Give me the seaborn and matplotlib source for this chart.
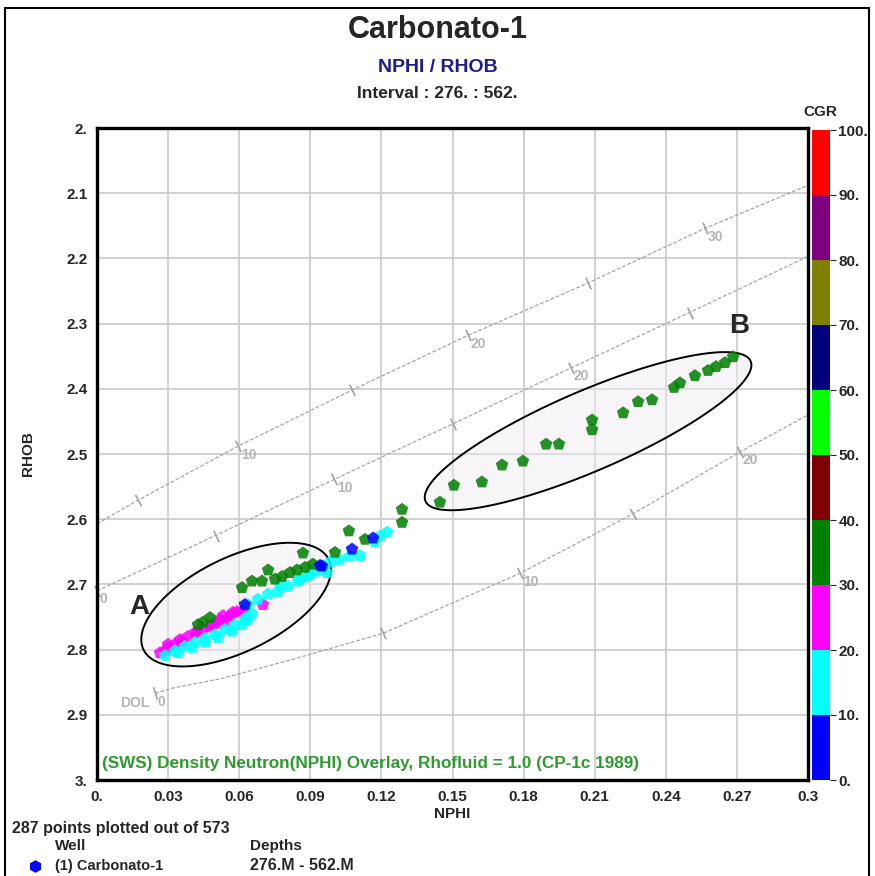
import matplotlib
matplotlib.use("Agg")
import matplotlib.pyplot as plt
import numpy as np
import pandas as pd
import seaborn as sns
from matplotlib import font_manager
from matplotlib.cm import ScalarMappable
from matplotlib.colors import ListedColormap, Normalize
from matplotlib.patches import Rectangle

# CGR colour classes (10 API each, 0 -> 100)
CGR_COLORS = ["#0000ff", "#00ffff", "#ff00ff", "#007f00", "#7f0000",
              "#00ff00", "#00007f", "#7f7f00", "#7f007f", "#ff0000"]
CGR_TICKS = [0, 10, 20, 30, 40, 50, 60, 70, 80, 90, 100]

NPHI_MAG = [0.0266, 0.0287, 0.0300, 0.0329, 0.0359, 0.0384, 0.0414, 0.0447, 0.0477,
            0.0506, 0.0540, 0.0532, 0.0574, 0.0612, 0.0624, 0.0591, 0.0700,
            0.0300, 0.0350, 0.0426, 0.0485, 0.0519, 0.0561]
RHOB_MAG = [2.805, 2.802, 2.797, 2.792, 2.788, 2.780, 2.774, 2.769, 2.765,
            2.760, 2.757, 2.748, 2.743, 2.743, 2.738, 2.742, 2.731,
            2.792, 2.785, 2.772, 2.762, 2.754, 2.749]
CGR_MAG = 25

NPHI_CYAN = [0.0287, 0.0329, 0.0371, 0.0414, 0.0456, 0.0498, 0.0540, 0.0582, 0.0624,
             0.0654, 0.0637, 0.0679, 0.0722, 0.0764, 0.0806, 0.0848, 0.0886, 0.0920,
             0.0954, 0.0970, 0.0983, 0.1025, 0.1067, 0.1110, 0.1173, 0.1224, 0.1194,
             0.0342, 0.0401, 0.0456, 0.0511, 0.0570, 0.0612, 0.0637, 0.0772, 0.0857, 0.0899]
RHOB_CYAN = [2.809, 2.802, 2.795, 2.789, 2.783, 2.777, 2.769, 2.762, 2.752,
             2.745, 2.731, 2.723, 2.715, 2.711, 2.703, 2.695, 2.688, 2.680,
             2.677, 2.682, 2.666, 2.662, 2.657, 2.656, 2.635, 2.620, 2.626,
             2.805, 2.797, 2.789, 2.782, 2.772, 2.762, 2.754, 2.702, 2.692, 2.685]
CGR_CYAN = 15

NPHI_BLUE = [0.0624, 0.0941, 0.0949, 0.1076, 0.1165]
RHOB_BLUE = [2.731, 2.671, 2.672, 2.646, 2.629]
CGR_BLUE = 5

NPHI_GRN = [0.0426, 0.0447, 0.0477, 0.0612, 0.0654, 0.0696, 0.0722, 0.0751, 0.0781,
            0.0814, 0.0844, 0.0878, 0.0911, 0.0869, 0.1004, 0.1063, 0.1131, 0.1287, 0.1287]
RHOB_GRN = [2.762, 2.758, 2.751, 2.705, 2.695, 2.695, 2.678, 2.692, 2.688,
            2.682, 2.678, 2.674, 2.669, 2.652, 2.651, 2.618, 2.631, 2.585, 2.605]
NPHI_B = [0.1447, 0.1506, 0.1624, 0.1709, 0.1797, 0.1895, 0.1949, 0.2089, 0.2089, 0.2220,
          0.2283, 0.2342, 0.2435, 0.2460, 0.2523, 0.2578, 0.2612, 0.2650, 0.2684]
RHOB_B = [2.574, 2.548, 2.543, 2.517, 2.511, 2.485, 2.485, 2.448, 2.463, 2.437,
          2.420, 2.417, 2.398, 2.391, 2.380, 2.372, 2.366, 2.360, 2.351]
CGR_GRN = 35

# CP-1c overlay lines (sandstone, limestone, dolomite)
SS_NPHI = [0.0, 0.0173, 0.0595, 0.1076, 0.1566, 0.2070, 0.2565, 0.3]
SS_RHOB = [2.607, 2.571, 2.488, 2.402, 2.318, 2.238, 2.154, 2.088]
SS_TICKS = {1: "", 2: "10", 3: "", 4: "20", 5: "", 6: "30"}
LS_NPHI = [0.0, 0.05, 0.10, 0.15, 0.20, 0.25, 0.3]
LS_RHOB = [2.710, 2.625, 2.539, 2.454, 2.368, 2.283, 2.197]
LS_TICKS = {0: "0", 1: "", 2: "10", 3: "", 4: "20", 5: ""}
DOL_NPHI = [0.0245, 0.032, 0.053, 0.0815, 0.1207, 0.1785, 0.226, 0.2712, 0.3]
DOL_RHOB = [2.867, 2.859, 2.844, 2.816, 2.775, 2.683, 2.592, 2.497, 2.440]
DOL_TICKS = {0: "0", 4: "", 5: "10", 6: "", 7: "20"}

X_TICKS = [0.0, 0.03, 0.06, 0.09, 0.12, 0.15, 0.18, 0.21, 0.24, 0.27, 0.3]
X_LABELS = ["0.", "0.03", "0.06", "0.09", "0.12", "0.15", "0.18", "0.21", "0.24", "0.27", "0.3"]
Y_TICKS = [2.0, 2.1, 2.2, 2.3, 2.4, 2.5, 2.6, 2.7, 2.8, 2.9, 3.0]
Y_LABELS = ["2.", "2.1", "2.2", "2.3", "2.4", "2.5", "2.6", "2.7", "2.8", "2.9", "3."]

frames = [
    pd.DataFrame({"NPHI": NPHI_MAG, "RHOB": RHOB_MAG, "CGR": CGR_MAG}),
    pd.DataFrame({"NPHI": NPHI_CYAN, "RHOB": RHOB_CYAN, "CGR": CGR_CYAN}),
    pd.DataFrame({"NPHI": NPHI_GRN + NPHI_B, "RHOB": RHOB_GRN + RHOB_B, "CGR": CGR_GRN}),
    pd.DataFrame({"NPHI": NPHI_BLUE, "RHOB": RHOB_BLUE, "CGR": CGR_BLUE}),
]
df = pd.concat(frames, ignore_index=True)

sns.set_theme(style="white")
installed = {f.name for f in font_manager.fontManager.ttflist}
narrow = "Liberation Sans Narrow" if "Liberation Sans Narrow" in installed else "Liberation Sans"
plt.rcParams["font.family"] = [narrow, "DejaVu Sans"]
plt.rcParams["font.weight"] = "bold"

cmap = ListedColormap(CGR_COLORS)
norm = Normalize(0, 100)

fig = plt.figure(figsize=(8.75, 8.76), dpi=100)
ax = fig.add_axes([97 / 875, 1 - 780 / 876, 711 / 875, 652 / 876])
cax = fig.add_axes([812 / 875, 1 - 780 / 876, 18 / 875, 650 / 876])

ax.set_xlim(0, 0.3)
ax.set_ylim(3.0, 2.0)
ax.set_xticks(X_TICKS)
ax.set_xticklabels(X_LABELS)
ax.set_yticks(Y_TICKS)
ax.set_yticklabels(Y_LABELS)
ax.grid(True, color="#cacaca", lw=1.2)
ax.tick_params(length=0, pad=7, labelsize=11)
for s in ax.spines.values():
    s.set_linewidth(2.4)
    s.set_color("black")


def pix_angle(x0, y0, x1, y1):
    p0 = ax.transData.transform((x0, y0))
    p1 = ax.transData.transform((x1, y1))
    return np.degrees(np.arctan2(p1[1] - p0[1], p1[0] - p0[0]))


gray = "#a6a6a6"
for xs, ys, ticks in [(SS_NPHI, SS_RHOB, SS_TICKS), (LS_NPHI, LS_RHOB, LS_TICKS),
                      (DOL_NPHI, DOL_RHOB, DOL_TICKS)]:
    ax.plot(xs, ys, color=gray, lw=0.9, ls=(0, (3, 1.5)), zorder=2)
    for i, lab in ticks.items():
        j = min(i + 1, len(xs) - 1)
        ang = pix_angle(xs[i], ys[i], xs[j], ys[j])
        ax.plot(xs[i], ys[i], marker=(2, 2, ang), ms=9, mew=0.9, color=gray,
                zorder=2, clip_on=False)
        if lab:
            ax.annotate(lab, (xs[i], ys[i]), xytext=(2, -6), textcoords="offset points",
                        ha="left", va="center", color="#b4b4b4", fontsize=10,
                        fontweight="bold", annotation_clip=False)
ax.annotate("DOL", (DOL_NPHI[0], DOL_RHOB[0]), xytext=(-4, -7), textcoords="offset points",
            ha="right", va="center", color="#b4b4b4", fontsize=10, fontweight="bold")


def ellipse(cx, cy, a, b, angle):
    c = ax.transData.transform((cx, cy))
    t = np.linspace(0, 2 * np.pi, 200)
    th = np.radians(angle)
    px = c[0] + a * np.cos(t) * np.cos(th) - b * np.sin(t) * np.sin(th)
    py = c[1] + a * np.cos(t) * np.sin(th) + b * np.sin(t) * np.cos(th)
    pts = ax.transData.inverted().transform(np.column_stack([px, py]))
    ax.fill(pts[:, 0], pts[:, 1], facecolor=(0.94, 0.92, 0.94, 0.45),
            edgecolor="black", lw=1.4, zorder=3)


ellipse(0.0587, 2.731, 103, 47, 26)
ellipse(0.2072, 2.465, 177, 40, 23.3)

sns.scatterplot(data=df, x="NPHI", y="RHOB", hue="CGR", palette=cmap, hue_norm=norm,
                marker="p", s=90, linewidth=0, alpha=0.85, legend=False, ax=ax, zorder=4)
ax.set_xlabel("NPHI", fontsize=11, fontweight="bold", labelpad=2)
ax.set_ylabel("RHOB", fontsize=11, fontweight="bold", labelpad=22)

ax.text(0.018, 2.735, "A", fontsize=20, fontweight="bold", ha="center", va="center",
        family="Liberation Sans")
ax.text(0.271, 2.304, "B", fontsize=20, fontweight="bold", ha="center", va="center",
        family="Liberation Sans")
ax.text(0.002, 2.975, "(SWS) Density Neutron(NPHI) Overlay, Rhofluid = 1.0 (CP-1c 1989)",
        color="#2e9a2e", fontsize=12.3, fontweight="bold", ha="left", va="center")

cb = fig.colorbar(ScalarMappable(norm=norm, cmap=cmap), cax=cax, ticks=CGR_TICKS)
cb.outline.set_visible(False)
cb.ax.set_yticklabels([f"{v}." for v in CGR_TICKS])
cb.ax.tick_params(length=4, width=0.8, pad=2, labelsize=11)
fig.text(820 / 875, 1 - 112 / 876, "CGR", ha="center", va="center", fontsize=11,
         fontweight="bold")

fig.text(0.5, 1 - 30 / 876, "Carbonato-1", ha="center", va="center", fontsize=22,
         fontweight="bold", family="Liberation Sans")
fig.text(0.5, 1 - 68 / 876, "NPHI / RHOB", ha="center", va="center", fontsize=14,
         fontweight="bold", color="#1c1c8c")
fig.text(0.5, 1 - 93 / 876, "Interval : 276. : 562.", ha="center", va="center",
         fontsize=12.5, fontweight="bold")

fig.text(12 / 875, 1 - 828 / 876, "287 points plotted out of 573", ha="left", va="center",
         fontsize=11.5, fontweight="bold")
fig.text(55 / 875, 1 - 846 / 876, "Well", ha="left", va="center", fontsize=11,
         fontweight="bold")
fig.text(250 / 875, 1 - 846 / 876, "Depths", ha="left", va="center", fontsize=11,
         fontweight="bold")
fig.text(55 / 875, 1 - 866 / 876, "(1) Carbonato-1", ha="left", va="center", fontsize=10.5,
         fontweight="bold")
fig.text(250 / 875, 1 - 866 / 876, "276.M - 562.M", ha="left", va="center", fontsize=11.5,
         fontweight="bold")
fig.add_artist(plt.Line2D([35 / 875], [1 - 866 / 876], marker="h", ms=8, color="#0000ff",
                          transform=fig.transFigure))
fig.add_artist(Rectangle((5 / 875, -0.05), 864 / 875, 1.05 - 8 / 876, fill=False,
                         lw=1.5, edgecolor="black", transform=fig.transFigure))

fig.savefig("out.png", dpi=100)
